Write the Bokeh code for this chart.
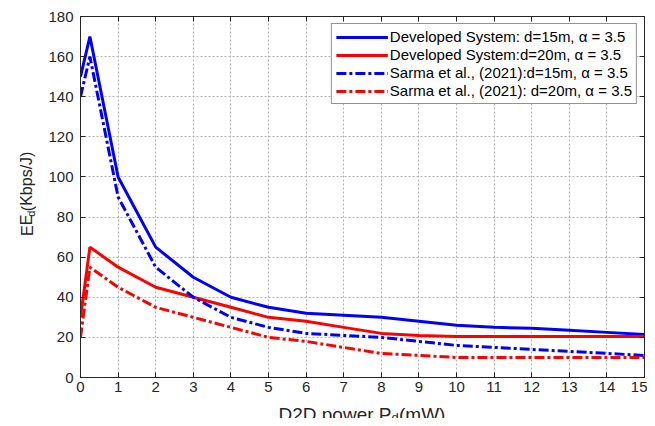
from bokeh.plotting import figure
from bokeh.layouts import row, column
from bokeh.models import (LinearAxis, Range1d, FixedTicker, Legend, LegendItem,
                          CustomLabelingPolicy, ColumnDataSource)
from bokeh.core.properties import value
from bokeh.embed import file_html
from bokeh.resources import INLINE

x = [0, 0.25, 1, 2, 3, 4, 5, 6, 7, 8, 9, 10, 11, 12, 13, 14, 15]
dev_15 = [150, 170, 100, 65, 50, 40, 35, 32, 31, 30, 28, 26, 25, 24.5, 23.5, 22.5, 21.5]
dev_20 = [30, 65, 55, 45, 40, 35, 30, 28, 25, 22, 21, 20.5, 20.5, 20.5, 20.5, 20.5, 20.5]
sar_15 = [140, 160, 90, 55, 40, 30, 25, 22, 21, 20, 18, 16, 15, 14, 13, 12, 11]
sar_20 = [20, 55, 45, 35, 30, 25, 20, 18, 15, 12, 11, 10, 10, 10, 10, 10, 10]
labels = ["Developed System: d=15m, \u03b1 = 3.5",
          "Developed System:d=20m, \u03b1 = 3.5",
          "Sarma et al., (2021):d=15m, \u03b1 = 3.5",
          "Sarma et al., (2021): d=20m, \u03b1 = 3.5"]
x_ticks = list(range(0, 16))
y_ticks = list(range(0, 181, 20))
x_title = ["D2D power P", "d", "(mW)"]
y_title = ["EE", "d", " (Kbps/J)"]

FONT = "Liberation Sans"
TXT = "#262626"
YW = 36          # width of the y-title strip
PW, PH = 611, 398
XH = 20          # height of the x-title strip

p = figure(width=PW, height=PH, output_backend="svg", toolbar_location=None,
           x_range=Range1d(0, 15), y_range=Range1d(0, 180),
           min_border_left=44, min_border_right=3, min_border_top=16, min_border_bottom=21)
p.background_fill_color = "white"
p.border_fill_color = "white"
p.outline_line_color = TXT
p.outline_line_width = 1

for ax, ticks in ((p.xaxis[0], x_ticks), (p.yaxis[0], y_ticks)):
    ax.ticker = FixedTicker(ticks=ticks)
    ax.major_tick_in = 5
    ax.major_tick_out = 0
    ax.minor_tick_line_color = None
    ax.major_label_text_font = FONT
    ax.major_label_text_font_size = "15px"
    ax.major_label_text_color = TXT
    ax.axis_line_color = TXT
    ax.major_tick_line_color = TXT
p.xaxis[0].major_label_standoff = 4
p.yaxis[0].major_label_standoff = 7

hide_all = CustomLabelingPolicy(code="const a = [...indices]; for (const i of a) indices.unset(i); return indices;")
for side, ticks in (("right", y_ticks), ("above", x_ticks)):
    ax = LinearAxis(ticker=FixedTicker(ticks=ticks), major_tick_in=5, major_tick_out=0,
                    minor_tick_line_color=None, major_label_text_font_size="0px",
                    major_label_standoff=0, axis_line_color=TXT,
                    major_tick_line_color=TXT, major_label_policy=hide_all)
    p.add_layout(ax, side)

p.xgrid.ticker = FixedTicker(ticks=x_ticks)
p.ygrid.ticker = FixedTicker(ticks=y_ticks)
for g in (p.xgrid[0], p.ygrid[0]):
    g.grid_line_color = "#b4b4b4"
    g.grid_line_dash = "2 2"
    g.grid_line_width = 1

r1 = p.line(x, dev_15, line_color="#0000ff", line_width=3)
r2 = p.line(x, dev_20, line_color="#ff0000", line_width=3)
r3 = p.line(x, sar_15, line_color="#0000ff", line_width=3, line_dash="10 3 3 3")
r4 = p.line(x, sar_20, line_color="#ff0000", line_width=3, line_dash="10 3 3 3")

legend = Legend(items=[LegendItem(label=labels[i], renderers=[r]) for i, r in enumerate([r1, r2, r3, r4])],
                location="top_right", margin=7)
legend.label_text_font = FONT
legend.label_text_font_size = "15px"
legend.label_text_color = "black"
legend.glyph_width = 52
legend.glyph_height = 16
legend.label_height = 16
legend.spacing = 1
legend.padding = 4
legend.label_standoff = 2
legend.border_line_color = TXT
legend.border_line_width = 1
legend.background_fill_color = "white"
legend.background_fill_alpha = 1
p.add_layout(legend, "center")


def strip(w, h):
    f = figure(width=w, height=h, output_backend="svg", toolbar_location=None,
               x_range=Range1d(0, w), y_range=Range1d(0, h),
               x_axis_type=None, y_axis_type=None, min_border=0)
    f.outline_line_color = None
    f.background_fill_color = "white"
    f.border_fill_color = "white"
    return f


# y-axis title strip (pixel units), rotated text with subscript
yf = strip(YW, PH)
y0 = PH - 242
ysrc = ColumnDataSource(dict(x=[26.5, 30.5, 26.5], y=[y0, y0 + 21.3, y0 + 27.4], t=y_title,
                             s=["16px", "11px", "16px"]))
yf.text(x="x", y="y", text="t", source=ysrc, angle=1.5708, text_font=value(FONT),
        text_font_size="s", text_color=TXT, text_baseline="alphabetic", text_align="left")

# x-axis title strip
xf = strip(YW + PW, XH)
x0 = 278
xsrc = ColumnDataSource(dict(x=[x0, x0 + 113, x0 + 120.5], y=[4.5, 0.8, 4.5], t=x_title,
                             s=["19px", "13px", "19px"]))
xf.text(x="x", y="y", text="t", source=xsrc, text_font=value(FONT),
        text_font_size="s", text_color=TXT, text_baseline="alphabetic", text_align="left")

layout = column(row(yf, p, spacing=0), xf, spacing=0)
open("out.html", "w").write(file_html(layout, INLINE))
